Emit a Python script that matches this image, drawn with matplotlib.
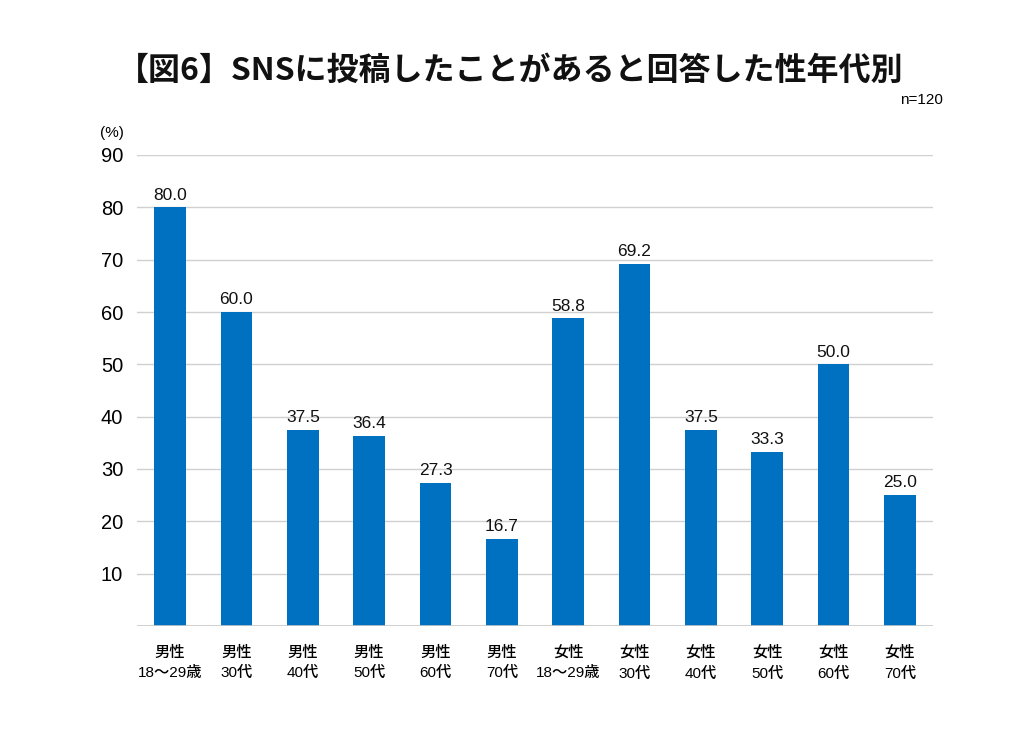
import numpy as np
import matplotlib.pyplot as plt

plt.rcParams['font.family'] = ['Liberation Sans', 'Noto Sans CJK JP', 'DejaVu Sans']

categories = ['男性\n18〜29歳', '男性\n30代', '男性\n40代', '男性\n50代', '男性\n60代', '男性\n70代',
              '女性\n18〜29歳', '女性\n30代', '女性\n40代', '女性\n50代', '女性\n60代', '女性\n70代']
values = [80.0, 60.0, 37.5, 36.4, 27.3, 16.7, 58.8, 69.2, 37.5, 33.3, 50.0, 25.0]
yticks = [10, 20, 30, 40, 50, 60, 70, 80, 90]

bar_color = '#0070C0'

fig = plt.figure(figsize=(10.24, 7.45), dpi=100)
ax = fig.add_axes([137 / 1024, 1 - 626 / 745, (933 - 137) / 1024, (626 - 155) / 745])

x = np.arange(len(values))
ax.bar(x, values, width=0.48, color=bar_color, zorder=3)
for xi, v in zip(x, values):
    ax.text(xi, v + 0.9, '{:.1f}'.format(v), ha='center', va='bottom', fontsize=12.5, color='#111111')

ax.set_xlim(-0.5, len(values) - 0.5)
ax.set_ylim(0, 90)
ax.set_yticks(yticks)
ax.set_yticklabels([str(t) for t in yticks], fontsize=14.5)
ax.yaxis.grid(True, color='#d0d0d0', linewidth=1, zorder=0)
ax.axhline(0, color='#c8c8c8', linewidth=1.2, zorder=4)
ax.set_xticks(x)
ax.set_xticklabels(categories, fontsize=11, linespacing=1.6,
                   fontfamily=['Liberation Sans', 'Noto Sans CJK JP'], fontweight='medium')
ax.tick_params(axis='x', length=0, pad=14)
ax.tick_params(axis='y', length=0, pad=10)
for s in ax.spines.values():
    s.set_visible(False)

fig.text(510 / 1024, 1 - 71 / 745, '【図6】SNSに投稿したことがあると回答した性年代別',
         ha='center', va='center', fontsize=23, fontweight='bold',
         fontfamily=['Noto Sans CJK JP'], color='#111111')
fig.text(943 / 1024, 1 - 100 / 745, 'n=120', ha='right', va='center', fontsize=11)
fig.text(112 / 1024, 1 - 133 / 745, '(%)', ha='center', va='center', fontsize=11)

fig.savefig('out.png', dpi=100)
